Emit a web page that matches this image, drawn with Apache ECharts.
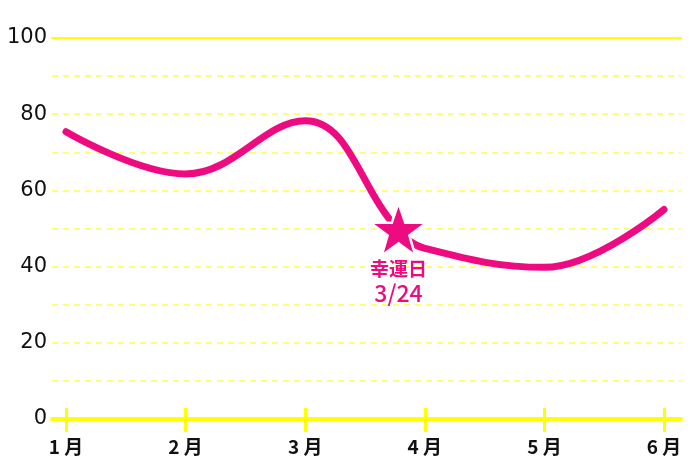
<!DOCTYPE html>
<html><head><meta charset="utf-8">
<script src="https://cdn.jsdelivr.net/npm/echarts@6/dist/echarts.min.js"></script>
<style>html,body{margin:0;padding:0;background:#fff}#c{width:700px;height:467px}</style>
</head><body><div id="c"></div>
<script>
const months = ['1 月','2 月','3 月','4 月','5 月','6 月'];
const monthPos = [1,2,3,4,5,6];
const lineX = [1, 2, 3, 3.78, 4, 5, 6];
const lineY = [75.4, 64.3, 78.3, 49.6, 44.8, 39.8, 55];
const luckyX = 3.78;
const luckyY = 49.8;
const luckyTitle = '幸運日';
const luckyDate = '3/24';
const yTicks = [0,20,40,60,80,100];

const pink = '#ee0a80';
const star = 'path://M50,0 L61.8,35.1 L98.9,35.1 L69,57.3 L79.4,92.7 L50,71 L20.6,92.7 L31,57.3 L1.1,35.1 L38.2,35.1 Z';
const chart = echarts.init(document.getElementById('c'), null, {renderer:'canvas'});
const xMin = 0.883, xMax = 6.142;
chart.setOption({
  animation:false,
  grid:{left:52,right:19,top:38,bottom:48},
  xAxis:[
    {type:'value',min:xMin,max:xMax,position:'bottom',
     axisLine:{show:true,lineStyle:{color:'#ffff00',width:4}},
     axisTick:{show:true,customValues:monthPos,length:13,lineStyle:{color:'#ffff00',width:3}},
     axisLabel:{show:true,customValues:monthPos,formatter:v=>months[monthPos.indexOf(Math.round(v))]||'',
       color:'#111',fontSize:19,fontWeight:'bold',fontFamily:'Noto Sans CJK JP',margin:18},
     splitLine:{show:false}},
    {type:'value',min:xMin,max:xMax,position:'bottom',
     axisLine:{show:false},
     axisTick:{show:true,inside:true,customValues:monthPos,length:11,lineStyle:{color:'#ffff00',width:3}},
     axisLabel:{show:false},splitLine:{show:false}},
    {type:'value',min:xMin,max:xMax,position:'top',
     axisLine:{show:true,lineStyle:{color:'#ffff00',width:2}},
     axisTick:{show:false},axisLabel:{show:false},splitLine:{show:false}}
  ],
  yAxis:{type:'value',min:0,max:100,interval:10,
    axisLine:{show:false},axisTick:{show:false},
    axisLabel:{color:'#111',fontSize:21,fontFamily:'DejaVu Sans',margin:5,
      formatter:v=>yTicks.indexOf(v)>=0?String(v):''},
    splitLine:{show:true,lineStyle:{color:'#ffff77',width:2,type:[6,5]}}},
  series:[
    {type:'line',smooth:0.4,symbol:'none',xAxisIndex:0,
     data:lineX.map((x,i)=>[x,lineY[i]]),
     lineStyle:{color:pink,width:7,cap:'round'},z:3},
    {type:'scatter',xAxisIndex:0,symbol:star,symbolSize:[56,53],
     data:[[luckyX,luckyY]],
     itemStyle:{color:pink,borderColor:'#fff',borderWidth:2.5,opacity:1},
     label:{show:true,position:'bottom',distance:0,
       formatter:'{a|'+luckyTitle+'}\n{b|'+luckyDate+'}',
       rich:{a:{color:pink,fontSize:19,fontWeight:'bold',fontFamily:'Noto Sans CJK JP',lineHeight:24},
             b:{color:pink,fontSize:23,fontWeight:500,fontFamily:'Noto Sans CJK JP',lineHeight:25}}},z:5}
  ]
});
</script></body></html>
